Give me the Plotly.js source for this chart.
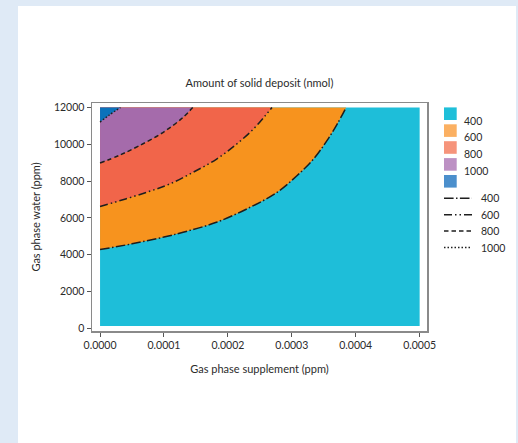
<!DOCTYPE html>
<html>
<head>
<meta charset="utf-8">
<script src="https://cdn.plot.ly/plotly-3.0.1.min.js"></script>
<style>
  html, body { margin: 0; padding: 0; background: #dfeaf6; }
  #chart { width: 518px; height: 443px; }
</style>
</head>
<body>
<div id="chart"></div>
<script>
// Deposit levels (nmol) that separate the filled bands
const levels = [400, 600, 800, 1000];
const levelLabels = ['400', '600', '800', '1000'];

// Iso-lines: gas phase supplement (ppm) -> gas phase water (ppm)
const x400 = [0, 0.00005, 0.0001, 0.00013, 0.000182, 0.000235, 0.000277, 0.000308, 0.000334, 0.000355, 0.000371, 0.000385];
const y400 = [4280, 4590, 4960, 5220, 5760, 6580, 7390, 8290, 9200, 10200, 11100, 12000];

const x600 = [0, 0.00004, 0.0000775, 0.000109, 0.0001456, 0.0001824, 0.0002138, 0.00024, 0.0002583, 0.000269];
const y600 = [6620, 7030, 7446, 7842, 8478, 9201, 10016, 10832, 11554, 12000];

const x800 = [0, 0.00003, 0.00006, 0.0001, 0.00013, 0.000145];
const y800 = [8980, 9400, 9900, 10680, 11470, 12000];

const x1000 = [0, 0.000014, 0.000032];
const y1000 = [11210, 11580, 12000];

// Extent of the computed grid
const xDomain = [0, 0.0005];
const yDomain = [120, 12000];

// Axis ticks
const xTicks = [0, 0.0001, 0.0002, 0.0003, 0.0004, 0.0005];
const yTicks = [0, 2000, 4000, 6000, 8000, 10000, 12000];

// ---- styling ----
const bandColors = ['#1ebed9', '#f7931e', '#f1654a', '#a56bab', '#0b72bb'];
const keyColors = ['#1fbfd9', '#fbb062', '#f6947b', '#bd91c4', '#4b8fcc'];
const dashes = ['9.6px,2.4px,1.5px,2.4px', '8px,3px,1.5px,3px,1.5px,3px', '4.5px,3px', '1.5px,2px'];
const FONT = 'Lato, "Open Sans", sans-serif';
const TXT = '#2b2b2b';

const curvesX = [x400, x600, x800, x1000];
const curvesY = [y400, y600, y800, y1000];

const traces = [];
// lowest band covers the whole grid
traces.push({
  type: 'scatter', mode: 'lines',
  x: [xDomain[0], xDomain[1], xDomain[1], xDomain[0]],
  y: [yDomain[0], yDomain[0], yDomain[1], yDomain[1]],
  fill: 'toself', fillcolor: bandColors[0],
  line: {width: 0}, hoverinfo: 'skip', showlegend: false
});
// each higher band: area between its iso-line and the top of the grid
levels.forEach((lv, i) => {
  const cx = curvesX[i], cy = curvesY[i];
  traces.push({
    type: 'scatter', mode: 'lines', x: cx, y: cy,
    line: {width: 0, shape: 'spline', smoothing: 1},
    hoverinfo: 'skip', showlegend: false
  });
  traces.push({
    type: 'scatter', mode: 'lines',
    x: [cx[0], cx[cx.length - 1]],
    y: [yDomain[1], yDomain[1]],
    fill: 'tonexty', fillcolor: bandColors[i + 1],
    line: {width: 0}, hoverinfo: 'skip', showlegend: false
  });
});
// iso-lines on top
levels.forEach((lv, i) => {
  traces.push({
    type: 'scatter', mode: 'lines', x: curvesX[i], y: curvesY[i],
    name: levelLabels[i],
    line: {color: '#1e1e1e', width: 1.5, dash: dashes[i], shape: 'spline', smoothing: 1},
    hoverinfo: 'skip', showlegend: false
  });
});

// plot area in pixels
const L = 92, R = 427, T = 103, B = 331;
const W = 518, H = 443;
const px = p => (p - L) / (R - L);
const py = p => (B - p) / (B - T);

const shapes = [];
const annotations = [];

// white card behind the figure
shapes.push({
  type: 'rect', xref: 'paper', yref: 'paper', layer: 'below',
  x0: px(18), x1: px(516), y0: py(6), y1: py(450),
  fillcolor: '#ffffff', line: {width: 0}
});

// key: filled bands
keyColors.forEach((c, i) => {
  const cyp = 113.7 + 16.9 * i;
  shapes.push({
    type: 'rect', xref: 'paper', yref: 'paper',
    x0: px(444), x1: px(456.7), y0: py(cyp + 6.3), y1: py(cyp - 6.3),
    fillcolor: c, line: {width: 0}
  });
});
levelLabels.forEach((t, i) => {
  annotations.push({
    xref: 'paper', yref: 'paper', x: px(461.5), y: py(120.5 + 16.7 * i),
    xanchor: 'left', yanchor: 'middle', showarrow: false, text: t,
    font: {family: FONT, size: 10.5, color: TXT}
  });
});
// key: iso-line styles
levelLabels.forEach((t, i) => {
  const ly = 198.3 + 16.4 * i;
  shapes.push({
    type: 'line', xref: 'paper', yref: 'paper',
    x0: px(444), x1: px(472), y0: py(ly), y1: py(ly),
    line: {color: '#1e1e1e', width: 1.5, dash: dashes[i]}
  });
  annotations.push({
    xref: 'paper', yref: 'paper', x: px(478.5), y: py(ly),
    xanchor: 'left', yanchor: 'middle', showarrow: false, text: t,
    font: {family: FONT, size: 10.5, color: TXT}
  });
});

const axisCommon = {
  showgrid: false, zeroline: false,
  showline: true, mirror: true, linecolor: '#8a8a8a', linewidth: 1.5,
  ticks: 'outside', ticklen: 4, tickwidth: 1, tickcolor: '#555',
  tickfont: {family: FONT, size: 10.5, color: TXT}
};

const layout = {
  width: W, height: H,
  margin: {l: L, r: W - R, t: T, b: H - B, pad: 0},
  paper_bgcolor: '#dfeaf6', plot_bgcolor: '#ffffff',
  showlegend: false,
  title: {
    text: 'Amount of solid deposit (nmol)',
    font: {family: FONT, size: 11, color: TXT},
    xref: 'paper', x: 0.5, xanchor: 'center',
    yref: 'container', y: 1 - 83 / H, yanchor: 'middle'
  },
  xaxis: Object.assign({}, axisCommon, {
    range: [-0.0000126, 0.0005115],
    tickvals: xTicks, tickformat: '.4f',
    title: {text: 'Gas phase supplement (ppm)', font: {family: FONT, size: 11, color: TXT}, standoff: 15}
  }),
  yaxis: Object.assign({}, axisCommon, {
    range: [-147, 12245],
    tickvals: yTicks, tickformat: 'd',
    title: {text: 'Gas phase water (ppm)', font: {family: FONT, size: 11, color: TXT}, standoff: 11}
  }),
  shapes: shapes,
  annotations: annotations
};

Plotly.newPlot('chart', traces, layout, {staticPlot: true, displayModeBar: false});
</script>
</body>
</html>
